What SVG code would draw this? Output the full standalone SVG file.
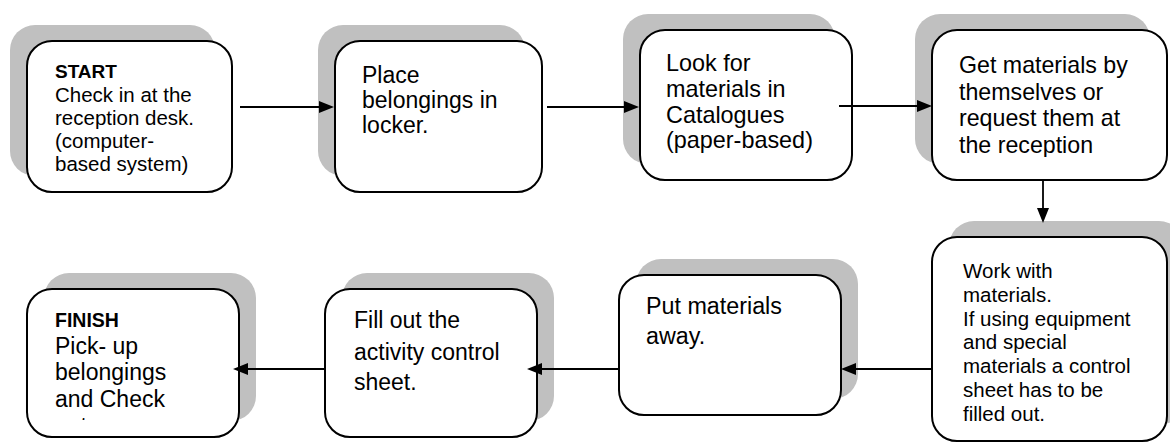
<svg xmlns="http://www.w3.org/2000/svg" width="1170" height="443" viewBox="0 0 1170 443">
<style>
.sh{fill:#c0c0c0;stroke:none}
.bx{fill:#ffffff;stroke:#000000;stroke-width:2}
.t{font-family:"Liberation Sans",Arial,sans-serif;fill:#000000}
.b{font-weight:bold}
.ln{stroke:#000000;stroke-width:1.8;fill:none;marker-end:url(#ah)}
</style>
<defs>
<marker id="ah" markerUnits="userSpaceOnUse" markerWidth="16" markerHeight="12" refX="1" refY="6" orient="auto">
<path d="M0,0 L15,6 L0,12 z" fill="#000000"/>
</marker>
<clipPath id="c1"><rect x="0" y="0" width="1170" height="175"/></clipPath>
<clipPath id="c4"><rect x="0" y="0" width="1170" height="157"/></clipPath>
<clipPath id="c8"><rect x="0" y="0" width="1170" height="420"/></clipPath>
</defs>
<rect width="1170" height="443" fill="#ffffff"/>

<g id="n1">
<rect class="sh" x="10" y="25" width="205" height="151" rx="25"/>
<rect class="bx" x="27" y="41" width="205" height="151" rx="25"/>
<g clip-path="url(#c1)">
<text class="t b" x="55" y="78" font-size="19">START</text>
<text class="t" x="55" y="102" font-size="20.5">Check in at the</text>
<text class="t" x="55" y="125" font-size="20.5">reception desk.</text>
<text class="t" x="55" y="148" font-size="20.5">(computer-</text>
<text class="t" x="55" y="171" font-size="20.5">based system)</text>
</g>
</g>

<g id="n2">
<rect class="sh" x="318" y="25" width="207" height="151" rx="25"/>
<rect class="bx" x="335" y="41" width="207" height="151" rx="25"/>
<text class="t" x="362" y="83" font-size="23">Place</text>
<text class="t" x="362" y="108" font-size="23">belongings in</text>
<text class="t" x="362" y="133" font-size="23">locker.</text>
</g>

<g id="n3">
<rect class="sh" x="623" y="14" width="212" height="150" rx="25"/>
<rect class="bx" x="640" y="30" width="212" height="150" rx="25"/>
<text class="t" x="666" y="71" font-size="23.4">Look for</text>
<text class="t" x="666" y="97" font-size="23.4">materials in</text>
<text class="t" x="666" y="123" font-size="23.4">Catalogues</text>
<text class="t" x="666" y="148" font-size="23.4">(paper-based)</text>
</g>

<g id="n4">
<rect class="sh" x="915" y="14" width="235" height="150" rx="25"/>
<rect class="bx" x="932" y="30" width="235" height="150" rx="25"/>
<g clip-path="url(#c4)">
<text class="t" x="959" y="73" font-size="23.2">Get materials by</text>
<text class="t" x="959" y="99.5" font-size="23.2">themselves or</text>
<text class="t" x="959" y="126" font-size="23.2">request them at</text>
<text class="t" x="959" y="153" font-size="23.2">the reception</text>
</g>
</g>

<g id="n5">
<rect class="sh" x="949" y="221" width="235" height="204" rx="25"/>
<rect class="bx" x="932" y="237" width="235" height="204" rx="25"/>
<text class="t" x="963" y="278" font-size="20.5">Work with</text>
<text class="t" x="963" y="302" font-size="20.5">materials.</text>
<text class="t" x="963" y="326" font-size="20.5">If using equipment</text>
<text class="t" x="963" y="349" font-size="20.5">and special</text>
<text class="t" x="963" y="373" font-size="20.5">materials a control</text>
<text class="t" x="963" y="397" font-size="20.5">sheet has to be</text>
<text class="t" x="963" y="421" font-size="20.5">filled out.</text>
</g>

<g id="n6">
<rect class="sh" x="636" y="259" width="222" height="140" rx="25"/>
<rect class="bx" x="619" y="275" width="222" height="140" rx="25"/>
<text class="t" x="646" y="314" font-size="23.3">Put materials</text>
<text class="t" x="646" y="344" font-size="23.3">away.</text>
</g>

<g id="n7">
<rect class="sh" x="342" y="273" width="212" height="148" rx="25"/>
<rect class="bx" x="325" y="289" width="212" height="148" rx="25"/>
<text class="t" x="354" y="328" font-size="23">Fill out the</text>
<text class="t" x="354" y="360" font-size="23">activity control</text>
<text class="t" x="354" y="390" font-size="23">sheet.</text>
</g>

<g id="n8">
<rect class="sh" x="44" y="273" width="212" height="148" rx="25"/>
<rect class="bx" x="27" y="289" width="212" height="148" rx="25"/>
<g clip-path="url(#c8)">
<text class="t b" x="55" y="327" font-size="19.5">FINISH</text>
<text class="t" x="55" y="354" font-size="23">Pick- up</text>
<text class="t" x="55" y="380" font-size="23">belongings</text>
<text class="t" x="55" y="407" font-size="23">and Check</text>
<text class="t" x="55" y="434" font-size="23">out.</text>
</g>
</g>

<g id="connectors">
<line class="ln" x1="240" y1="107" x2="320" y2="107"/>
<line class="ln" x1="547" y1="107" x2="625" y2="107"/>
<line class="ln" x1="839" y1="106" x2="918" y2="106"/>
<line class="ln" x1="1043" y1="180" x2="1043" y2="209"/>
<line class="ln" x1="932" y1="369" x2="855" y2="369"/>
<line class="ln" x1="619" y1="369" x2="541" y2="369"/>
<line class="ln" x1="325" y1="369" x2="247" y2="369"/>
</g>
</svg>
